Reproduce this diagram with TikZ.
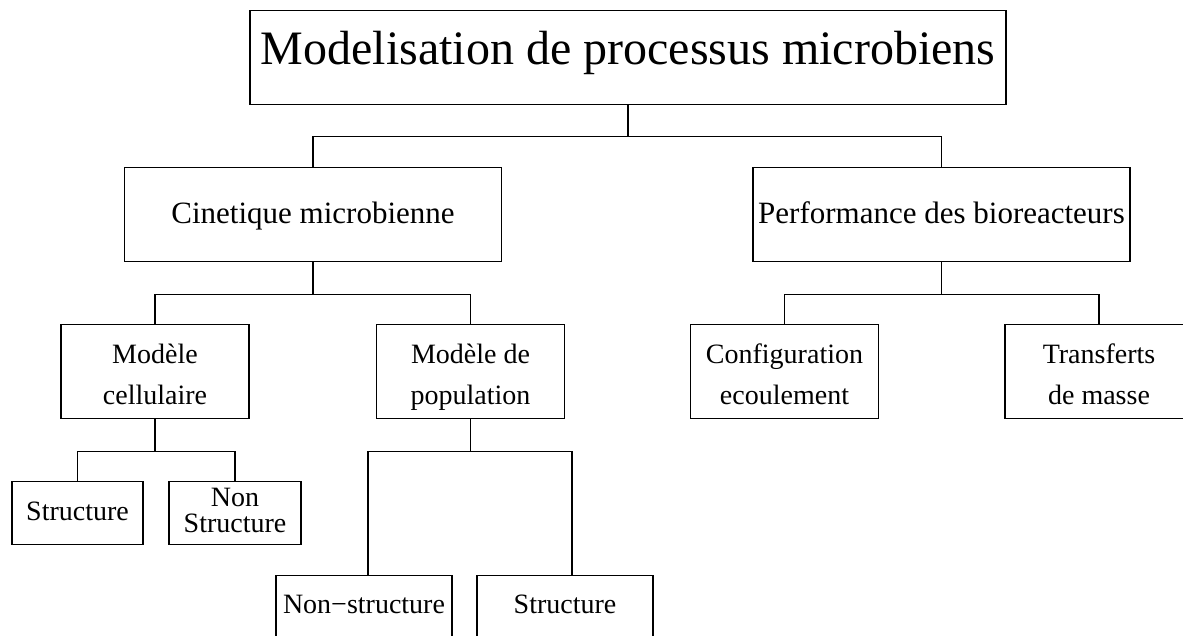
\documentclass[tikz,border=0pt]{standalone}
\usepackage{fontspec}
\setmainfont{Liberation Serif}
\usetikzlibrary{
	arrows.meta,
	calc,
	positioning,
}
\tikzset{box node/.style={
	draw,
	rectangle,
	inner sep=0mm,
	align=center,
	anchor=north,
	black,
}}

\begin{document}
\begin{tikzpicture}[
x=1pt,
y=-1pt,
line width=1.1pt,
]
\useasboundingbox (0,0) rectangle (1183,635);
\clip (0,0) rectangle (1183,635);

\tikzset{
	big/.style={box node, font=\fontsize{48}{58}\selectfont, minimum width=756pt, text height=54pt, text depth=40pt},
	mid/.style={box node, font=\fontsize{31}{38}\selectfont, minimum width=377pt, text height=56pt, text depth=38pt},
	two/.style={box node, font=\fontsize{28}{41}\selectfont, minimum width=188pt, text height=80pt, text depth=14pt},
	small/.style={box node, font=\fontsize{28}{26}\selectfont, text height=39pt, text depth=24pt},
	low/.style={small, minimum width=176pt, text height=38pt, text depth=27pt},
}

\node(root)[big] at(628,10) {Modelisation de processus microbiens};

\begin{scope}[every node/.style={mid}]
\node(cin)	at(313,167)		{Cinetique microbienne};
\node(perf)	at(941.5,167)	{Performance des bioreacteurs};
\end{scope}

\begin{scope}[every node/.style={two}]
\node(cell)		at(155,324)		{Modèle\\cellulaire};
\node(pop)		at(470.5,324)	{Modèle de\\population};
\node(conf)		at(784.5,324)	{Configuration\\ecoulement};
\node(trans)	at(1099,324)	{Transferts\\de masse};
\end{scope}

\node(st1)[small, minimum width=131pt] 	at(77.5,481)	{Structure};
\node(nst1)[small, minimum width=132pt, text height=51pt, text depth=12pt] at(235,481) {Non\\Structure};
\node(nst2)[low]	at(364,575)		{Non−structure};
\node(st2)[low]		at(565,575)		{Structure};

% tree connectors
\draw (root.south) -- ++(0,31) coordinate (r);
\draw (r) -| (cin.north);
\draw (r) -| (perf.north);

\draw (cin.south) -- ++(0,32) coordinate (c);
\draw (c) -| (cell.north);
\draw (c) -| (pop.north);

\draw (perf.south) -- ++(0,32) coordinate (p);
\draw (p) -| (conf.north);
\draw (p) -| (trans.north);

\draw (cell.south) -- ++(0,32) coordinate (m);
\draw (m) -| (st1.north);
\draw (m) -| (nst1.north);

\draw (pop.south) -- ++(0,32) coordinate (q);
\draw (q) -| ([xshift=4pt]nst2.north);
\draw (q) -| ([xshift=7pt]st2.north);

\end{tikzpicture}
\end{document}
